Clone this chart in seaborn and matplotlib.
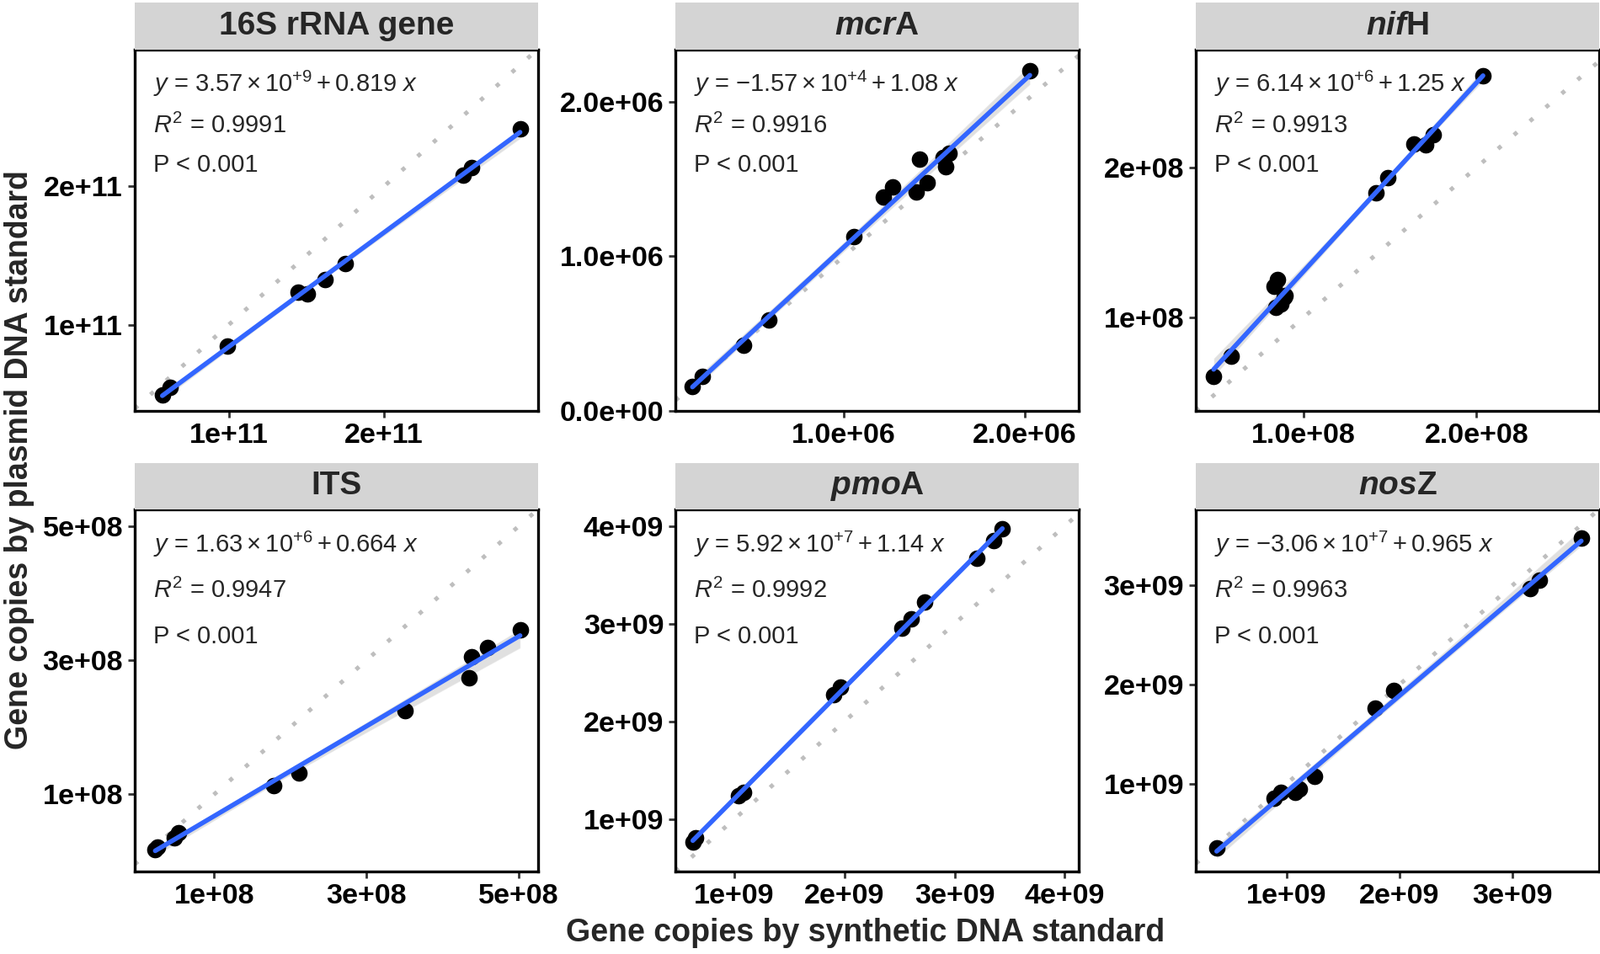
import numpy as np
import pandas as pd
import matplotlib
matplotlib.use("Agg")
import matplotlib.pyplot as plt
import seaborn as sns

sns.set_theme(style="white")
plt.rcParams["font.family"] = ["Liberation Sans", "DejaVu Sans"]
plt.rcParams.update({
    "mathtext.fontset": "custom",
    "mathtext.rm": "Liberation Sans",
    "mathtext.it": "Liberation Sans:italic",
    "mathtext.bf": "Liberation Sans:bold",
    "mathtext.bfit": "Liberation Sans:italic:bold",
})

# ---- data (synthetic standard x, plasmid standard y) ----
x_16s = [5.71e10, 6.22e10, 9.93e10, 1.444e11, 1.504e11, 1.622e11, 1.753e11, 2.511e11, 2.564e11, 2.878e11]
y_16s = [4.92e10, 5.45e10, 8.45e10, 1.233e11, 1.222e11, 1.324e11, 1.445e11, 2.080e11, 2.138e11, 2.419e11]

x_mcra = [1.635e5, 2.167e5, 4.45e5, 5.87e5, 1.057e6, 1.22e6, 1.268e6, 1.42e6, 1.401e6, 1.462e6, 1.548e6, 1.563e6, 1.58e6, 2.028e6]
y_mcra = [1.608e5, 2.233e5, 4.26e5, 5.87e5, 1.126e6, 1.381e6, 1.447e6, 1.631e6, 1.415e6, 1.476e6, 1.637e6, 1.58e6, 1.665e6, 2.199e6]

x_nifh = [4.8e7, 5.81e7, 8.38e7, 8.48e7, 8.30e7, 8.86e7, 8.67e7, 8.95e7, 1.419e8, 1.486e8, 1.638e8, 1.705e8, 1.752e8, 2.038e8]
y_nifh = [6.04e7, 7.42e7, 1.068e8, 1.254e8, 1.205e8, 1.137e8, 1.088e8, 1.146e8, 1.83e8, 1.934e8, 2.156e8, 2.152e8, 2.22e8, 2.611e8]

x_its = [2.28e7, 2.6e7, 4.74e7, 5.32e7, 1.78e8, 2.111e8, 3.507e8, 4.384e8, 4.345e8, 4.594e8, 5.016e8]
y_its = [1.79e7, 2.16e7, 3.54e7, 4.23e7, 1.138e8, 1.323e8, 2.246e8, 3.053e8, 2.744e8, 3.192e8, 3.455e8]

x_pmoa = [6.23e8, 6.5e8, 1.04e9, 1.081e9, 1.903e9, 1.965e9, 2.523e9, 2.604e9, 2.73e9, 3.205e9, 3.358e9, 3.434e9]
y_pmoa = [7.62e8, 8.1e8, 1.238e9, 1.27e9, 2.27e9, 2.349e9, 2.952e9, 3.048e9, 3.222e9, 3.667e9, 3.851e9, 3.968e9]

x_nosz = [3.84e8, 8.95e8, 9.48e8, 1.079e9, 1.118e9, 1.249e9, 1.786e9, 1.949e9, 3.157e9, 3.241e9, 3.608e9]
y_nosz = [3.56e8, 8.54e8, 9.16e8, 9.16e8, 9.47e8, 1.081e9, 1.762e9, 1.944e9, 2.969e9, 3.053e9, 3.476e9]

genes = ["16S", "mcrA", "nifH", "ITS", "pmoA", "nosZ"]
strip_labels = ["16S rRNA gene", r"$\mathbfit{mcr}$A", r"$\mathbfit{nif}$H",
                "ITS", r"$\mathbfit{pmo}$A", r"$\mathbfit{nos}$Z"]
xs = [x_16s, x_mcra, x_nifh, x_its, x_pmoa, x_nosz]
ys = [y_16s, y_mcra, y_nifh, y_its, y_pmoa, y_nosz]

eq_texts = [
    r"$y$ = $3.57\times10^{+9}+0.819$ $x$",
    r"$y$ = $-1.57\times10^{+4}+1.08$ $x$",
    r"$y$ = $6.14\times10^{+6}+1.25$ $x$",
    r"$y$ = $1.63\times10^{+6}+0.664$ $x$",
    r"$y$ = $5.92\times10^{+7}+1.14$ $x$",
    r"$y$ = $-3.06\times10^{+7}+0.965$ $x$",
]
r2_values = ["0.9991", "0.9916", "0.9913", "0.9947", "0.9992", "0.9963"]
p_text = "P < 0.001"

xlims = [(3.93e10, 2.993e11), (0.70e5, 2.298e6), (3.77e7, 2.709e8),
         (-4.1e6, 5.25e8), (4.66e8, 4.127e9), (2.0e8, 3.765e9)]
ylims = [(3.75e10, 2.99e11), (0.0, 2.337e6), (3.75e7, 2.787e8),
         (-1.44e7, 5.245e8), (4.67e8, 4.168e9), (1.23e8, 3.762e9)]

xticks = [[1e11, 2e11], [1e6, 2e6], [1e8, 2e8], [1e8, 3e8, 5e8], [1e9, 2e9, 3e9, 4e9], [1e9, 2e9, 3e9]]
xticklabels = [["1e+11", "2e+11"], ["1.0e+06", "2.0e+06"], ["1.0e+08", "2.0e+08"],
               ["1e+08", "3e+08", "5e+08"], ["1e+09", "2e+09", "3e+09", "4e+09"],
               ["1e+09", "2e+09", "3e+09"]]
yticks = [[1e11, 2e11], [0, 1e6, 2e6], [1e8, 2e8], [1e8, 3e8, 5e8], [1e9, 2e9, 3e9, 4e9], [1e9, 2e9, 3e9]]
yticklabels = [["1e+11", "2e+11"], ["0.0e+00", "1.0e+06", "2.0e+06"], ["1e+08", "2e+08"],
               ["1e+08", "3e+08", "5e+08"], ["1e+09", "2e+09", "3e+09", "4e+09"],
               ["1e+09", "2e+09", "3e+09"]]

df = pd.concat([pd.DataFrame({"gene": g, "synthetic": x, "plasmid": y})
                for g, x, y in zip(genes, xs, ys)], ignore_index=True)

# ---- layout ----
fig = plt.figure(figsize=(19, 11.33), dpi=100)
col_left = [0.0842, 0.4222, 0.7474]
ax_w = 0.2520
row_bottom = [0.5691, 0.0868]
ax_h = 0.3790
strip_h = 0.0490

blue = "#3366FF"
for i, gene in enumerate(genes):
    r, c = divmod(i, 3)
    ax = fig.add_axes([col_left[c], row_bottom[r], ax_w, ax_h])
    sub = df[df["gene"] == gene]

    ax.axline((0, 0), slope=1, color="#BEBEBE", lw=3.6, ls=(0, (1, 4)), zorder=1)
    sns.regplot(data=sub, x="synthetic", y="plasmid", ax=ax, scatter=False, ci=95,
                color="#999999", line_kws={"alpha": 0})
    sns.scatterplot(data=sub, x="synthetic", y="plasmid", ax=ax, color="black",
                    s=200, linewidth=0, zorder=3)
    sns.regplot(data=sub, x="synthetic", y="plasmid", ax=ax, scatter=False, ci=None,
                color=blue, line_kws={"lw": 4, "zorder": 4})
    for coll in ax.collections[:1]:
        coll.set_alpha(0.3)

    ax.set_xlim(*xlims[i])
    ax.set_ylim(*ylims[i])
    ax.set_xticks(xticks[i])
    ax.set_xticklabels(xticklabels[i])
    ax.set_yticks(yticks[i])
    ax.set_yticklabels(yticklabels[i])
    ax.set_xlabel("")
    ax.set_ylabel("")
    ax.tick_params(axis="both", direction="out", length=6, width=2, color="#333333",
                   labelsize=24.5, pad=4, bottom=True, left=True)
    for lab in ax.get_xticklabels() + ax.get_yticklabels():
        lab.set_fontweight("bold")
        lab.set_color("black")
    for sp in ax.spines.values():
        sp.set_linewidth(2.4)
        sp.set_color("black")

    ytop = [0.905, 0.790, 0.680] if r == 0 else [0.905, 0.775, 0.650]
    ax.text(0.045, ytop[0], eq_texts[i], transform=ax.transAxes, fontsize=21, va="center", ha="left")
    ax.text(0.045, ytop[1], r"$R^2$ = " + r2_values[i], transform=ax.transAxes, fontsize=21,
            va="center", ha="left")
    ax.text(0.045, ytop[2], p_text, transform=ax.transAxes, fontsize=21, va="center", ha="left")

    sax = fig.add_axes([col_left[c], row_bottom[r] + ax_h, ax_w, strip_h])
    sax.set_facecolor("#D4D4D4")
    sax.set_xticks([])
    sax.set_yticks([])
    for sp in sax.spines.values():
        sp.set_visible(False)
    sax.text(0.5, 0.5, strip_labels[i], transform=sax.transAxes, ha="center", va="center",
             fontsize=28, fontweight="bold")

fig.text(0.541, 0.022, "Gene copies by synthetic DNA standard", ha="center", va="center",
         fontsize=27, fontweight="bold")
fig.text(0.012, 0.518, "Gene copies by plasmid DNA standard", ha="center", va="center",
         rotation=90, fontsize=27, fontweight="bold")

fig.savefig("out.png", dpi=100)
